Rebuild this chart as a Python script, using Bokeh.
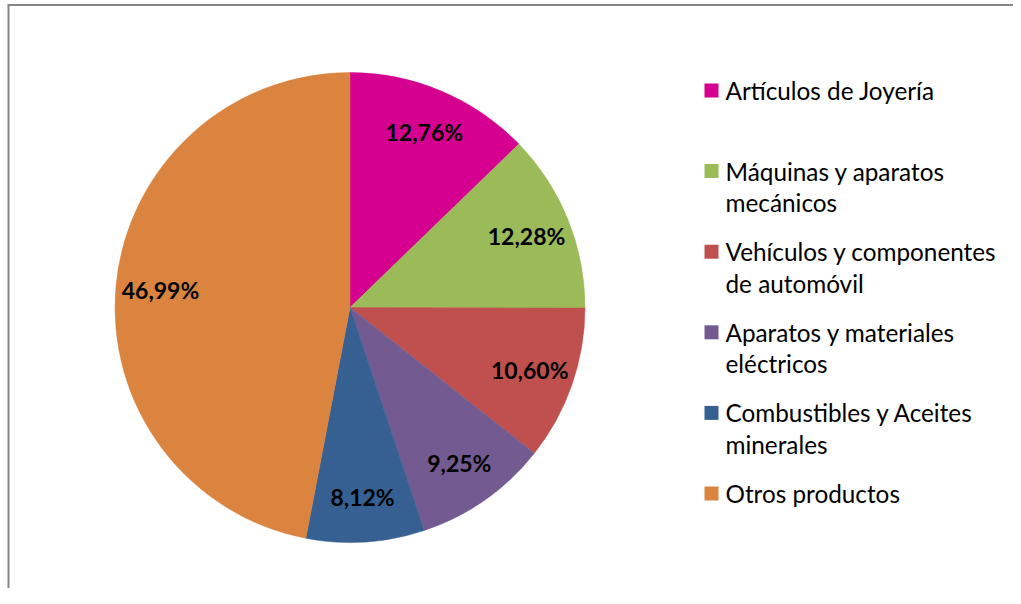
import math
from bokeh.plotting import figure
from bokeh.models import Range1d, ColumnDataSource
from bokeh.core.properties import value
from bokeh.embed import file_html
from bokeh.resources import INLINE

# ---- data ----
categories = [
    "Artículos de Joyería",
    "Máquinas y aparatos\nmecánicos",
    "Vehículos y componentes\nde automóvil",
    "Aparatos y materiales\neléctricos",
    "Combustibles y Aceites\nminerales",
    "Otros productos",
]
shares = [12.76, 12.28, 10.60, 9.25, 8.12, 46.99]
colors = ["#D5008F", "#9BBB59", "#C0504D", "#735A90", "#366092", "#DA8440"]

# ---- layout (pixels, measured from top-left) ----
W, H = 1013, 588
FONT = "Lato"
cx, cy, R = 349.5, H - 307, 235.0   # pie centre and radius

p = figure(width=W, height=H, output_backend="svg", toolbar_location=None,
           x_range=Range1d(0, W), y_range=Range1d(0, H), min_border=0)
p.axis.visible = False
p.grid.visible = False
p.outline_line_color = None
p.background_fill_color = "white"
p.border_fill_color = "white"

# chart-area border (left and top)
p.line([8, 8], [0, H - 4.5], line_color="#868686", line_width=2)
p.line([7, W], [H - 4.5, H - 4.5], line_color="#868686", line_width=2)

# ---- pie ----
total = sum(shares)
starts, ends, mids = [], [], []
acc = 0.0
for s in shares:
    a0 = math.pi / 2 - 2 * math.pi * acc / total
    acc += s
    a1 = math.pi / 2 - 2 * math.pi * acc / total
    starts.append(a1)
    ends.append(a0)
    mids.append((a0 + a1) / 2)

src = ColumnDataSource(dict(start=starts, end=ends, color=colors))
p.wedge(x=cx, y=cy, radius=R, start_angle="start", end_angle="end",
        fill_color="color", line_color="color", line_width=0.5, source=src)

# ---- data labels ----
lr = 0.81 * R
lab_x = [cx + lr * math.cos(m) for m in mids]
lab_y = [cy + lr * math.sin(m) for m in mids]
lab_t = [f"{s:.2f}".replace(".", ",") + "%" for s in shares]
p.text(x=lab_x, y=lab_y, text=lab_t, text_align="center", text_baseline="middle",
       text_font=value(FONT), text_font_style="bold", text_font_size="23px",
       text_color="black")

# ---- legend (manual) ----
leg_sq_x = 711
leg_tx = 725
leg_top = H - 90
leg_step = 80.6
line_h = 31.5
for i, (cat, col) in enumerate(zip(categories, colors)):
    yy = leg_top - i * leg_step
    p.rect(x=leg_sq_x, y=yy, width=14, height=14, fill_color=col, line_color=None)
    for j, ln in enumerate(cat.split("\n")):
        p.text(x=[leg_tx], y=[yy - j * line_h], text=[ln], text_align="left",
               text_baseline="middle", text_font=value(FONT),
               text_font_size="24.3px", text_color="black")

open("out.html", "w").write(file_html(p, INLINE))
